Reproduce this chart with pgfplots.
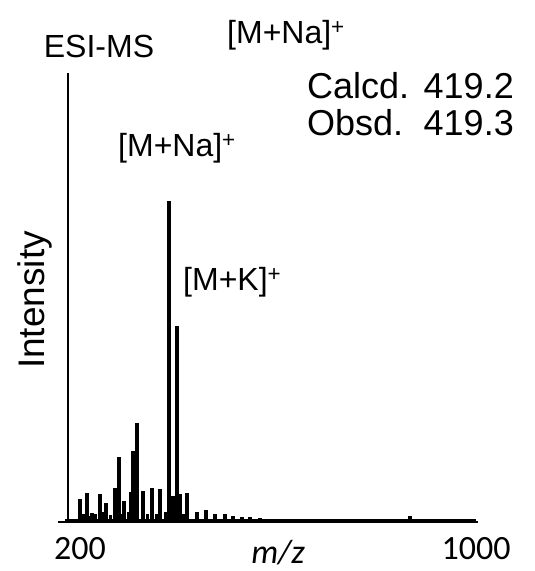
\documentclass[border=0pt]{standalone}
\usepackage{pgfplots}
\pgfplotsset{compat=1.18}
\usepackage{fontspec}
\setmainfont{Liberation Sans}
\newfontfamily\carlito{Carlito}
\begin{document}
\begin{tikzpicture}
\useasboundingbox (0,0) rectangle (535bp,571bp);
\begin{axis}[
  at={(58bp,49bp)}, anchor=south west,
  scale only axis, width=420bp, height=460bp,
  xmin=155.6, xmax=1004, ymin=0, ymax=460,
  axis x line=bottom, hide y axis,
  axis line style={line width=2.4bp, -},
  x axis line style={-},
  xtick={200,1000}, major tick length=0pt,
  xticklabel style={font=\carlito\fontsize{34bp}{40bp}\selectfont, yshift=-12bp},
  /pgf/number format/assume math mode=true,
  /pgf/number format/1000 sep={},
  clip=false,
]
% thin spectrum baseline
\addplot[black, line width=2bp] coordinates {(170,2.5) (1000,2.5)};
% tall left line
\addplot[ycomb, black, line width=2.6bp, mark=none] coordinates {(175.8,449)};
% peaks
\addplot[ycomb, black, line width=3.1bp, mark=none] coordinates {
(200,23) (206,8) (214.1,29) (219,6) (224.2,9) (232,8) (240.4,28) (246,10) (252.5,19) (261,7)
(270.7,34) (278.8,65) (284,8) (288.9,21) (298,10) (303,30) (307.1,71) (315.2,99)
(327.3,31) (336,8) (345.5,34) (354,8) (361.6,33) (372,10)
(379.8,321) (387.9,26) (396,196) (402,28) (408,8) (416.2,29)
(436.4,10) (454.5,12) (472.7,8) (492.9,8) (509.1,6) (527.3,5) (543.4,5)
(563.6,4) (583.8,3.5) (604,3.5) (624.2,3.5) (644.4,3.5) (664.6,3.5) (684.8,3.5)
(705,3.5) (725.2,3.5) (751.5,3.5) (866.7,6)
};
\end{axis}
% text labels
\node[font=\fontsize{32bp}{38bp}\selectfont] at (99bp,525bp) {ESI-MS};
\node[font=\fontsize{32bp}{38bp}\selectfont, anchor=west, inner sep=0pt] at (227bp,536bp) {[M+Na]\textsuperscript{+}};
\node[font=\fontsize{36bp}{42bp}\selectfont, anchor=west, inner sep=0pt] at (307bp,485bp) {Calcd.};
\node[font=\fontsize{36bp}{42bp}\selectfont, anchor=east, inner sep=0pt] at (514bp,485bp) {419.2};
\node[font=\fontsize{36bp}{42bp}\selectfont, anchor=west, inner sep=0pt] at (307bp,448bp) {Obsd.};
\node[font=\fontsize{36bp}{42bp}\selectfont, anchor=east, inner sep=0pt] at (514bp,448bp) {419.3};
\node[font=\fontsize{32bp}{38bp}\selectfont, anchor=west, inner sep=0pt] at (118bp,423bp) {[M+Na]\textsuperscript{+}};
\node[font=\fontsize{32bp}{38bp}\selectfont, anchor=west, inner sep=0pt] at (183bp,289bp) {[M+K]\textsuperscript{+}};
\node[font=\fontsize{37bp}{44bp}\selectfont, rotate=90] at (35bp,271bp) {Intensity};
\node[font=\carlito\itshape\fontsize{34bp}{40bp}\selectfont] at (278bp,18bp) {m/z};
\end{tikzpicture}
\end{document}
